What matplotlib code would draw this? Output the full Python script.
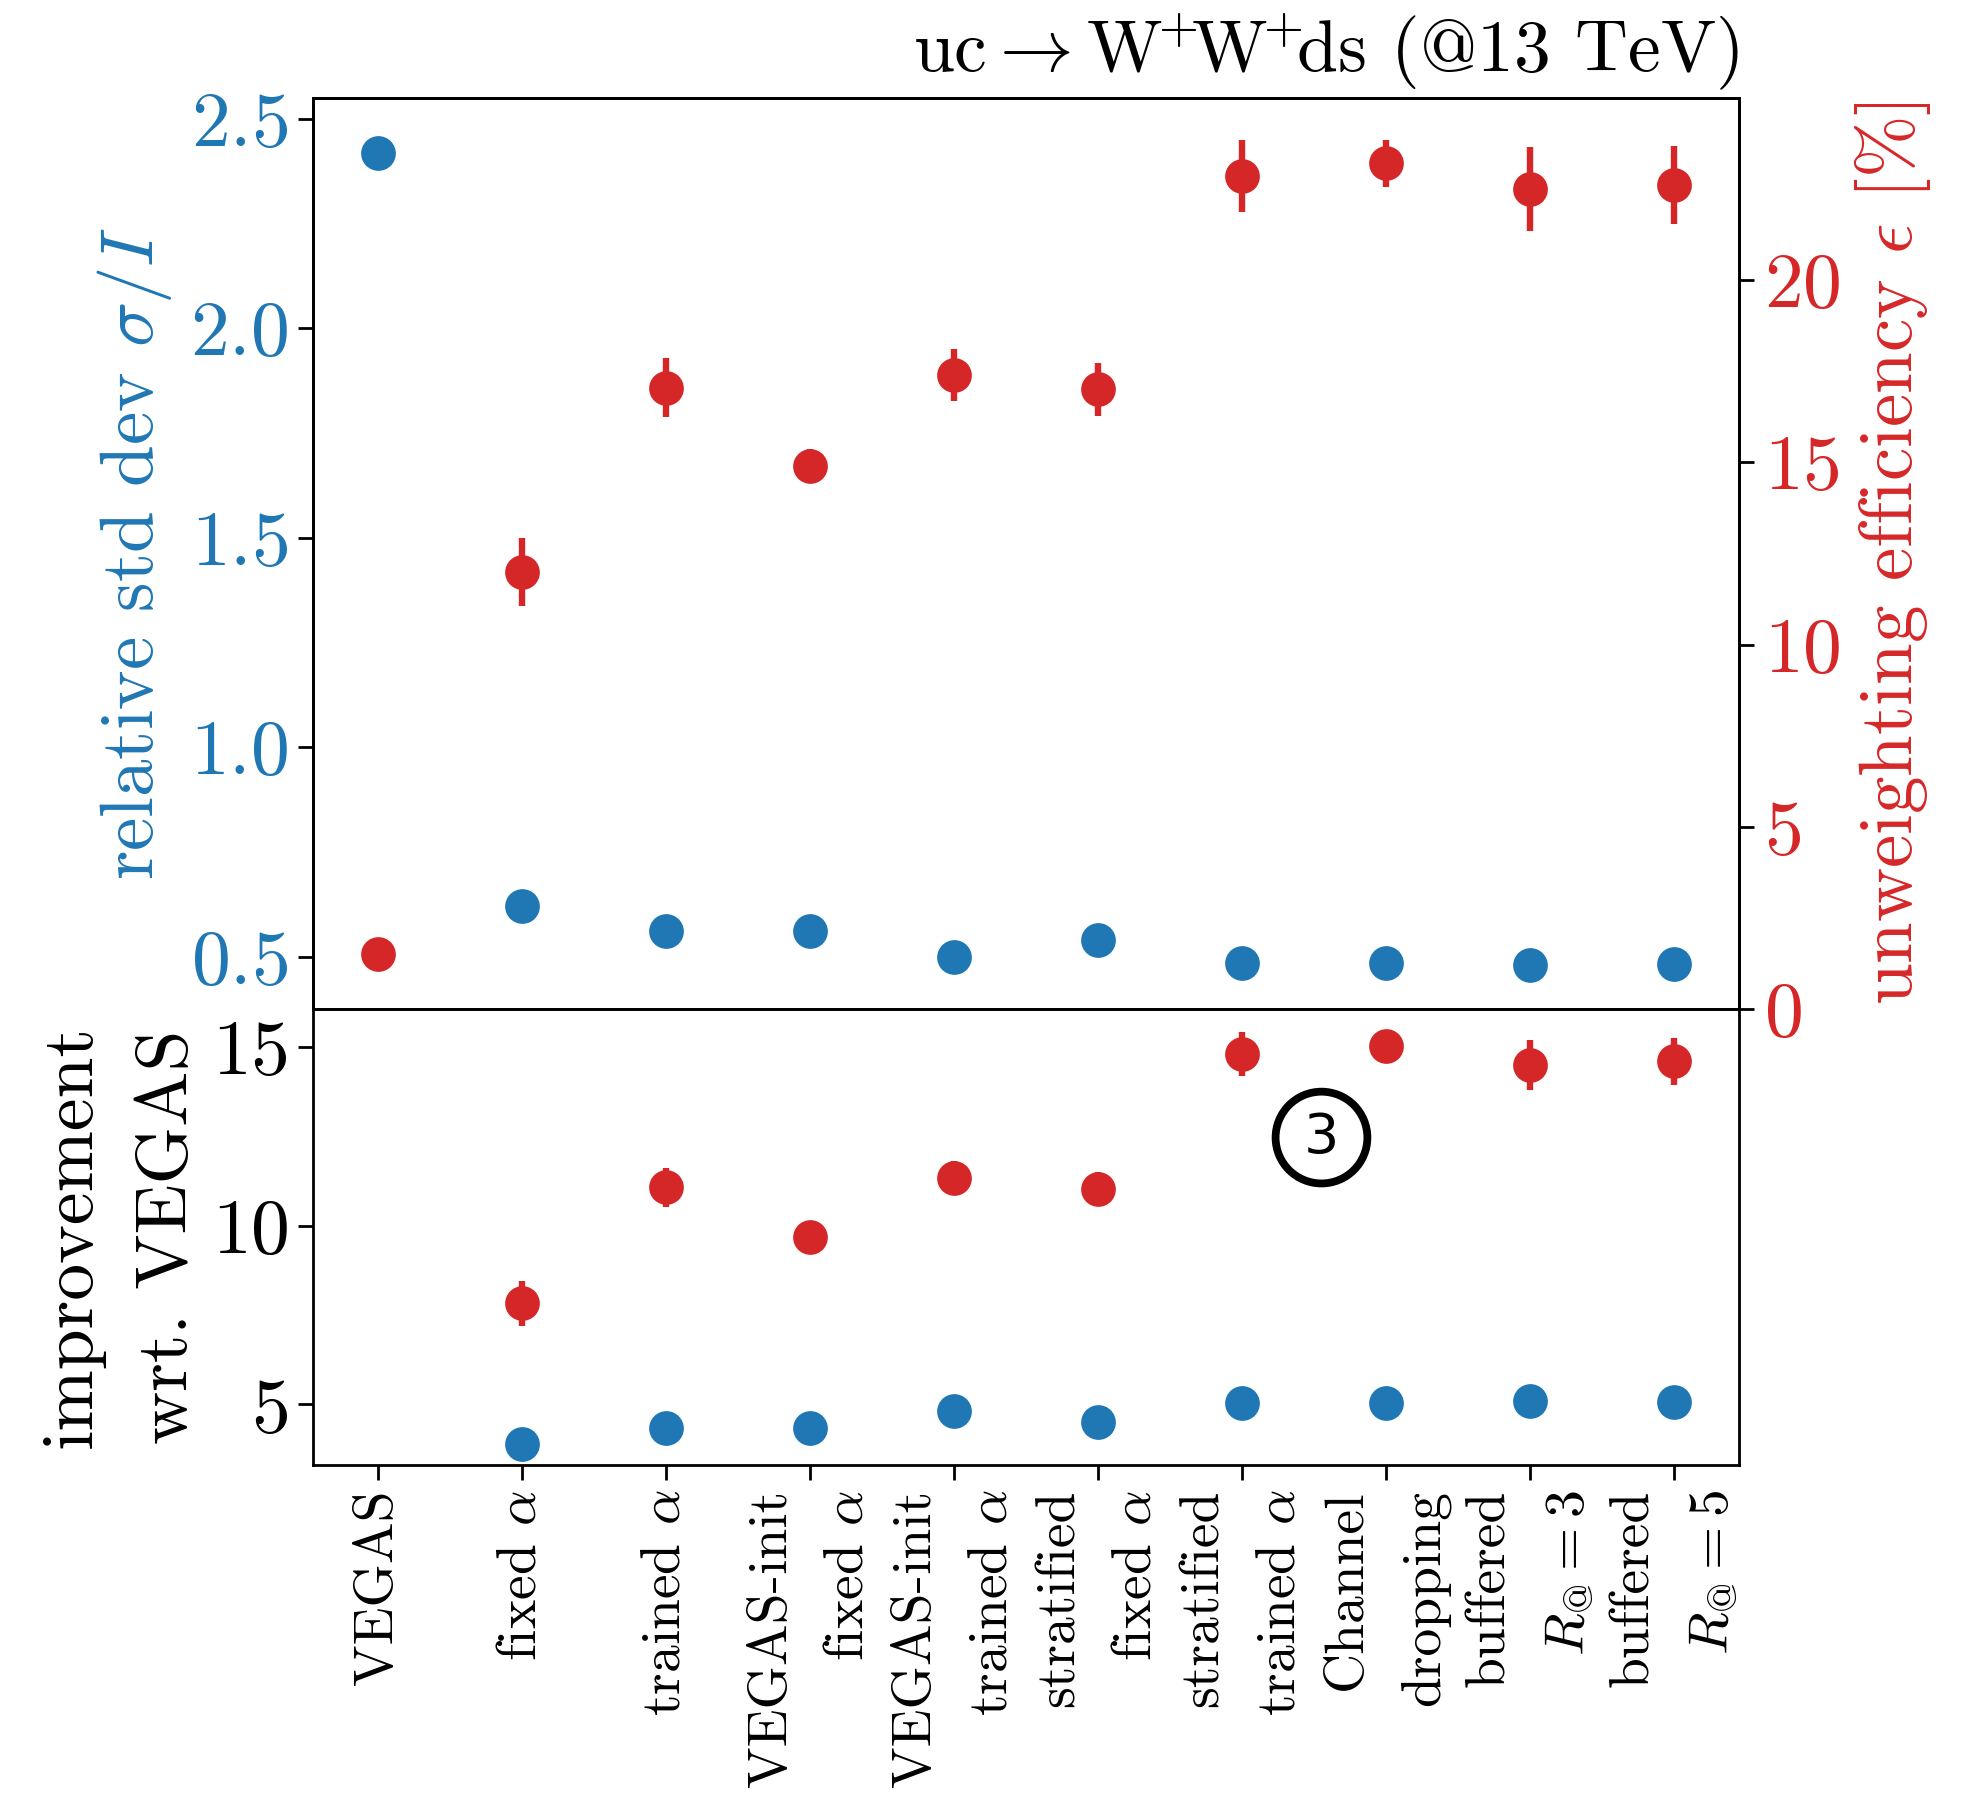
import numpy as np
import matplotlib.pyplot as plt

plt.rcParams['mathtext.fontset'] = 'cm'
plt.rcParams['font.family'] = ['cmr10', 'DejaVu Serif']
plt.rcParams['axes.formatter.use_mathtext'] = True

blue = '#1f77b4'
red = '#d62728'

methods = ["VEGAS", r"fixed $\alpha$", r"trained $\alpha$",
           "VEGAS-init\n" + r"fixed $\alpha$", "VEGAS-init\n" + r"trained $\alpha$",
           "stratified\n" + r"fixed $\alpha$", "stratified\n" + r"trained $\alpha$",
           "Channel\ndropping", "buffered\n" + r"$R_{\mathrm{@}}=3$",
           "buffered\n" + r"$R_{\mathrm{@}}=5$"]

# top panel
rel_std = [2.42, 0.62, 0.56, 0.56, 0.50, 0.54, 0.485, 0.485, 0.48, 0.483]
eff = [1.51, 12.0, 17.05, 14.9, 17.4, 17.0, 22.85, 23.2, 22.5, 22.6]
eff_err = [0.1, 0.93, 0.8, 0.47, 0.72, 0.72, 0.98, 0.64, 1.15, 1.07]

# bottom panel (improvement wrt. VEGAS, no value for VEGAS itself)
impr_std = [np.nan, 3.9, 4.35, 4.35, 4.83, 4.51, 5.04, 5.05, 5.11, 5.08]
impr_eff = [np.nan, 7.83, 11.08, 9.69, 11.33, 11.03, 14.8, 15.04, 14.5, 14.6]
impr_eff_err = [0, 0.62, 0.55, 0.2, 0.48, 0.48, 0.62, 0.35, 0.7, 0.67]

x = np.arange(len(methods))

fig = plt.figure(figsize=(9.83, 8.965), dpi=200)
ax1 = fig.add_axes([0.1594, 0.4371, 0.7252, 0.5084])
ax2 = fig.add_axes([0.1594, 0.1832, 0.7252, 0.2539])
ax1r = ax1.twinx()

tick_fs = 28
for a in (ax1, ax2, ax1r):
    for s in a.spines.values():
        s.set_linewidth(1.0)
    a.tick_params(length=5.5, width=1.0, labelsize=tick_fs)

ax1.plot(x, rel_std, 'o', color=blue, ms=11.5)
ax1r.errorbar(x, eff, yerr=eff_err, fmt='o', color=red, ms=11.5,
              elinewidth=2.3, capsize=0)
ax1.set_xlim(-0.45, 9.45)
ax1.set_ylim(0.374, 2.551)
ax1r.set_ylim(0, 25)
ax1.set_yticks([0.5, 1.0, 1.5, 2.0, 2.5])
ax1r.set_yticks([0, 5, 10, 15, 20])
ax1.tick_params(axis='x', bottom=False, labelbottom=False)
ax1.tick_params(axis='y', labelcolor=blue)
ax1r.tick_params(axis='y', labelcolor=red)
ax1.set_ylabel(r'relative std dev $\sigma/I$', color=blue, fontsize=27,
               labelpad=6)
ax1r.set_ylabel(r'unweighting efficiency $\epsilon$ [%]', color=red,
                fontsize=27)
ax1.set_title(r'$\mathrm{uc}\rightarrow\mathrm{W}^{\!\!+}\!\!\mathrm{W}^{\!\!+}\!\!\mathrm{ds}$ (@13 TeV)',
              loc='right', fontsize=26.5, pad=9.5)

ax2.plot(x, impr_std, 'o', color=blue, ms=11.5)
ax2.errorbar(x, impr_eff, yerr=impr_eff_err, fmt='o', color=red, ms=11.5,
             elinewidth=2.3, capsize=0)
ax2.set_xlim(-0.45, 9.45)
ax2.set_ylim(3.32, 16.06)
ax2.set_yticks([5, 10, 15])
ax2.set_ylabel('improvement\nwrt. VEGAS', fontsize=26.5, linespacing=1.6)
ax2.set_xticks(x)
ax2.set_xticklabels(methods, rotation=90, va='top', ha='center',
                    multialignment='right', fontsize=20, linespacing=1.7)

# circled panel number
ax2.text(6.55, 12.47, '3', fontsize=20, family='DejaVu Sans',
         ha='center', va='center',
         bbox=dict(boxstyle='circle,pad=0.34', fc='none', ec='k', lw=2.8))

fig.savefig('out.png', dpi=200)
